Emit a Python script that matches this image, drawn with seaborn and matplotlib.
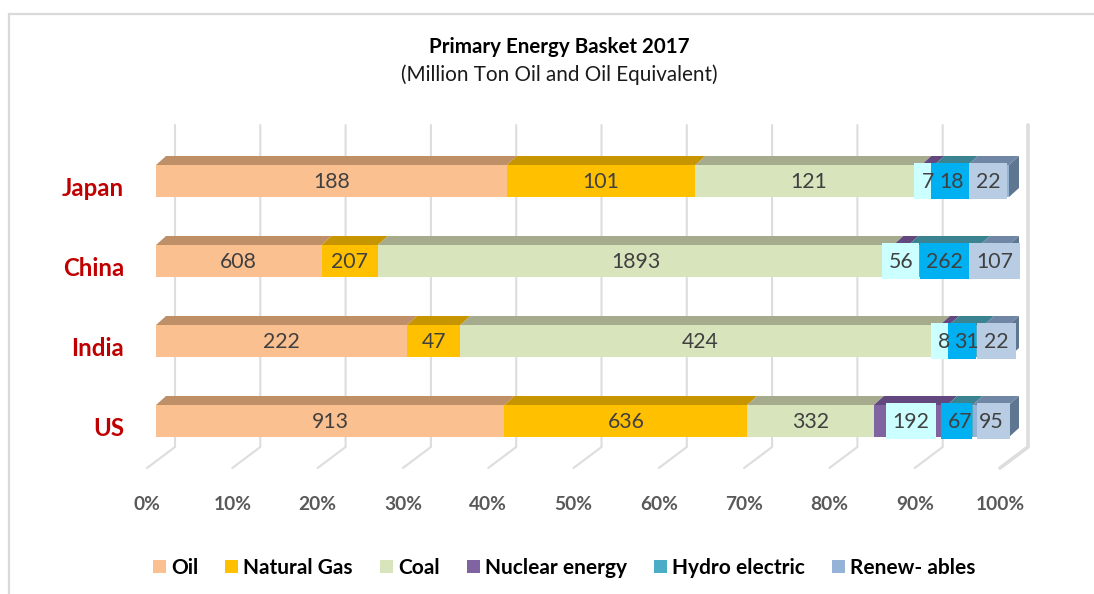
import numpy as np
import pandas as pd
import seaborn as sns
import matplotlib
matplotlib.use("Agg")
import matplotlib.pyplot as plt
from matplotlib.lines import Line2D
from matplotlib.patches import Patch, Polygon, Rectangle
from matplotlib.transforms import ScaledTranslation

# ---- data ----
countries = ["Japan", "China", "India", "US"]
series = ["Oil", "Natural Gas", "Coal", "Nuclear energy", "Hydro electric", "Renew- ables"]
oil = [188, 608, 222, 913]
gas = [101, 207, 47, 636]
coal = [121, 1893, 424, 332]
nuclear = [7, 56, 8, 192]
hydro = [18, 262, 31, 67]
renew = [22, 107, 22, 95]
tick_values = [0, 10, 20, 30, 40, 50, 60, 70, 80, 90, 100]

# ---- styles ----
front_colors = ["#FAC090", "#FFC000", "#D8E4BC", "#8064A2", "#4BACC6", "#95B3D7"]
top_colors = ["#BF9068", "#C79500", "#A6AB8E", "#63487F", "#3B8391", "#6F87A5"]
side_color = "#5F7690"
label_fills = {3: "#CCFFFF", 4: "#00B0F0", 5: "#B8CCE4"}
# left/right extent (px) of the filled label boxes, relative to the segment centre
label_box_px = {
    3: [(-13.8, 3.2), (-19, 18), (-13.5, 3.5), (-24.5, 25.5)],
    4: [(-20, 18), (-24.3, 25.7), (-18.5, 9.5), (-19, 12)],
    5: [(-19.5, 18.5), (-25.5, 25.5), (-19.5, 19.5), (-14, 19)],
}

W, H = 1094, 594
PLOT_L, PLOT_R = 156, 1009       # 0 % and 100 % on the front plane
ROW_PX = 80
PLOT_T, PLOT_B = 141, 461        # category band -0.5 .. 3.5
DX, DY = 10, 9                   # bar depth in px
px_x = 100 / (PLOT_R - PLOT_L)   # data units per px
px_y = 1 / ROW_PX

sns.set_theme(style="white")
plt.rcParams["font.family"] = ["Lato", "DejaVu Sans"]

fig = plt.figure(figsize=(W / 100, H / 100), dpi=100)
ax = fig.add_axes([PLOT_L / W, 1 - PLOT_B / H, (PLOT_R - PLOT_L) / W, (PLOT_B - PLOT_T) / H])

values = np.array([oil, gas, coal, nuclear, hydro, renew], dtype=float)
shares = values / values.sum(axis=0) * 100
lefts = np.vstack([np.zeros(4), np.cumsum(shares, axis=0)[:-1]])
rights = lefts + shares
BAR_H = 0.4

# back wall gridlines with their floor returns
for t in tick_values:
    lw = 2.6 if t == 100 else 1.5
    xb = t + 19 * px_x
    xf = t - 9 * px_x
    ytop = (125 - PLOT_T) * px_y - 0.5
    yc = (447 - PLOT_T) * px_y - 0.5
    yf = (468 - PLOT_T) * px_y - 0.5
    ax.plot([xb, xb, xf], [ytop, yc, yf], color="#DDDDDD", lw=lw, clip_on=False,
            zorder=0, solid_joinstyle="miter")

# front faces via seaborn
for i, name in enumerate(series):
    df = pd.DataFrame({"country": countries, "share": shares[i]})
    sns.barplot(data=df, y="country", x="share", order=countries, orient="h", ax=ax,
                color=front_colors[i], saturation=1, width=BAR_H, left=lefts[i],
                errorbar=None, zorder=3, linewidth=0)

# top faces and end side
for r in range(4):
    yt = r - BAR_H / 2
    yb = r + BAR_H / 2
    for i in range(6):
        x0, x1 = lefts[i, r], rights[i, r]
        ax.add_patch(Polygon([(x0, yt), (x1, yt), (x1 + DX * px_x, yt - DY * px_y),
                              (x0 + DX * px_x, yt - DY * px_y)],
                             closed=True, fc=top_colors[i], ec="none", zorder=2,
                             clip_on=False))
    ax.add_patch(Polygon([(100, yt), (100 + DX * px_x, yt - DY * px_y),
                          (100 + DX * px_x, yb - DY * px_y), (100, yb)],
                         closed=True, fc=side_color, ec="none", zorder=2, clip_on=False))

# value labels
for i in range(6):
    for r in range(4):
        xc = (lefts[i, r] + rights[i, r]) / 2
        if i in label_box_px:
            l, rr = label_box_px[i][r]
            ax.add_patch(Rectangle((xc + l * px_x, r - 18 * px_y), (rr - l) * px_x, 36 * px_y,
                                   fc=label_fills[i], ec="none", zorder=4 + i * 0.1,
                                   clip_on=False))
        ax.text(xc, r + 1 * px_y, f"{int(values[i, r])}", ha="center", va="center",
                fontsize=15.3, color="#404040", zorder=6)

# axes and ticks
ax.set_xlim(0, 100)
ax.set_ylim(3.5, -0.5)
ax.set_xlabel("")
ax.set_ylabel("")
sns.despine(ax=ax, left=True, bottom=True)
ax.set_xticks(tick_values, [f"{t}%" for t in tick_values])
ax.tick_params(axis="x", length=0, pad=25.5, labelsize=13.8, labelcolor="#595959")
ax.tick_params(axis="y", length=0, pad=23, labelsize=17.3, labelcolor="#C00000")
for lab in ax.get_xticklabels():
    lab.set_fontweight("bold")
    lab.set_transform(lab.get_transform() + ScaledTranslation(-9 / 100, 0, fig.dpi_scale_trans))
for lab in ax.get_yticklabels():
    lab.set_fontweight("bold")
    lab.set_transform(lab.get_transform() + ScaledTranslation(0, -6 / 100, fig.dpi_scale_trans))
ax.patch.set_alpha(0)

# titles
fig.text(559 / W, 1 - 47 / H, "Primary Energy Basket 2017", ha="center", va="center",
         fontsize=14.8, fontweight="bold", color="black")
fig.text(559 / W, 1 - 75 / H, "(Million Ton Oil and Oil Equivalent)", ha="center", va="center",
         fontsize=14.9, color="#1a1a1a")

# legend
handles = [Patch(fc=c, ec="none", label=s) for c, s in zip(front_colors, series)]
fig.legend(handles=handles, loc="center", bbox_to_anchor=(564 / W, 1 - 568 / H), ncol=6,
           frameon=False, handlelength=0.624, handleheight=0.624,
           handletextpad=0.24, columnspacing=1.3, prop={"weight": "bold", "size": 15},
           labelcolor="black")

# chart frame
fig.add_artist(Line2D([9 / W, 9 / W], [0, 1 - 14 / H], color="#D9D9D9", lw=1.6))
fig.add_artist(Line2D([9 / W, 1], [1 - 14 / H, 1 - 14 / H], color="#D9D9D9", lw=1.6))

fig.savefig("out.png", dpi=100)
